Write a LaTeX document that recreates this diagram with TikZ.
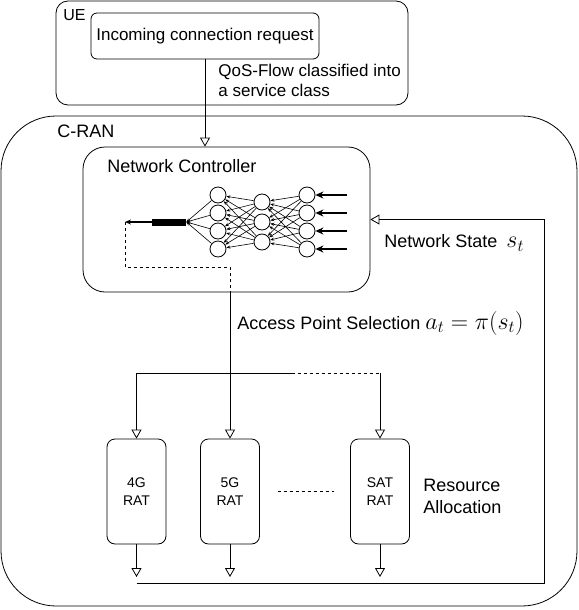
\RequirePackage{fix-cm}
\documentclass[tikz,border=0pt]{standalone}
\usepackage{fontspec}
\setmainfont{Liberation Sans}
\usetikzlibrary{arrows.meta}

\newcommand{\bigmath}[1]{{\fontsize{24}{28}\selectfont$#1$}}

\tikzset{
  box/.style={draw, rounded corners=#1, inner sep=0pt},
  ratbox/.style={draw, rounded corners=8pt, minimum width=59pt, minimum height=105pt,
    inner sep=0pt, align=center, font=\fontsize{14}{18}\selectfont},
  neuron/.style={draw, circle, minimum size=16pt, inner sep=0pt, fill=white},
  openarrow/.style={-{Triangle[open,length=9pt,width=10pt]}},
  nnarrow/.style={line width=0.6pt, -{Stealth[length=4pt,width=3pt]}},
  lbl/.style={font=\fontsize{18}{22}\selectfont, inner sep=0pt},
  smalllbl/.style={font=\fontsize{17}{20}\selectfont, inner sep=0pt},
  dashline/.style={dash pattern=on 3pt off 3pt},
}

\begin{document}
\begin{tikzpicture}[x=1pt,y=-1pt,line width=0.8pt]
    \useasboundingbox (0,0) rectangle (578,610);

    % UE side
    \node[box=12pt, minimum width=352pt, minimum height=104pt] (ue) at (232,53) {};
    \node[font=\fontsize{16}{19}\selectfont, inner sep=0pt, anchor=west] (uelbl) at (63,15) {UE};
    \node[box=6pt, smalllbl, minimum width=228pt, minimum height=46pt] (req) at (205,36) {Incoming connection request};
    \node[smalllbl, anchor=north west, align=left] (qos) at (218,64) {QoS-Flow classified into\\a service class};

    % C-RAN and controller
    \node[box=55pt, minimum width=576pt, minimum height=490pt] (cran) at (289,361) {};
    \node[lbl, anchor=west] (cranlbl) at (57,131) {C-RAN};
    \node[box=22pt, minimum width=287pt, minimum height=145pt] (nc) at (226.5,219.5) {};
    \node[lbl, anchor=west] (nclbl) at (107,166) {Network Controller};
    \draw[openarrow] (req.south) -- (req.south |- nc.north);

    % neural network
    \foreach \i/\y in {1/195,2/213,3/231,4/249}
    {
      \node[neuron] (in\i) at (307,\y) {};
      \node[neuron] (hb\i) at (218,\y) {};
    }
    \foreach \j/\y in {1/202,2/222,3/242}
      \node[neuron] (ha\j) at (262,\y) {};

    \foreach \i in {1,...,4}
      \foreach \j in {1,2,3}
      {
        \draw[nnarrow] (in\i) -- (ha\j);
        \draw[nnarrow] (ha\j) -- (hb\i);
      }

    \foreach \i in {1,...,4}
      \draw[line width=2.2pt, -{Stealth[length=8pt,width=7pt]}] ([xshift=32pt]in\i.east) -- (in\i.east);

    \node[fill=black, minimum width=34pt, minimum height=7pt, inner sep=0pt] (outbar) at (169,222) {};
    \foreach \i in {1,...,4}
      \draw[nnarrow] (hb\i) -- (outbar.east);
    \coordinate (outtip) at (125,222);
    \draw[line width=1.2pt, -{Stealth[length=6pt,width=5pt]}] (outbar.west) -- (outtip);

    % RATs
    \node[ratbox] (g4) at (136.5,491.5) {4G\\RAT};
    \node[ratbox] (g5) at (230,491.5) {5G\\RAT};
    \node[ratbox] (sat) at (380,491.5) {SAT\\RAT};
    \draw[dashline] ([xshift=18pt]g5.east) -- ([xshift=-16pt]sat.west);

    % access point selection
    \draw[dashline] (outtip) -- ++(0,45) -| (g5.north |- nc.south);
    \draw[openarrow] (g5.north |- nc.south) -- (g5.north);
    \coordinate (split) at (292,373);
    \draw[openarrow] (split) -- (g4.north |- split) -- (g4.north);
    \draw[dashline] (split) -- (sat.north |- split);
    \draw[openarrow] (sat.north |- split) -- (sat.north);

    % feedback
    \coordinate (fb) at (544,583);
    \foreach \r in {g4,g5,sat}
      \draw[openarrow] (\r.south) -- (\r.south |- 0,577);
    \draw[openarrow] (g4.south |- fb) -- (fb) |- (nc.east);

    % labels
    \node[lbl, anchor=west] (state) at (384,243) {Network State\enspace\bigmath{s_t}};
    \node[lbl, anchor=west] (apsel) at (237,323) {Access Point Selection \bigmath{a_t = \pi(s_t)}};
    \node[lbl, anchor=west, align=left] (resalloc) at (423,496) {Resource\\Allocation};
\end{tikzpicture}
\end{document}
